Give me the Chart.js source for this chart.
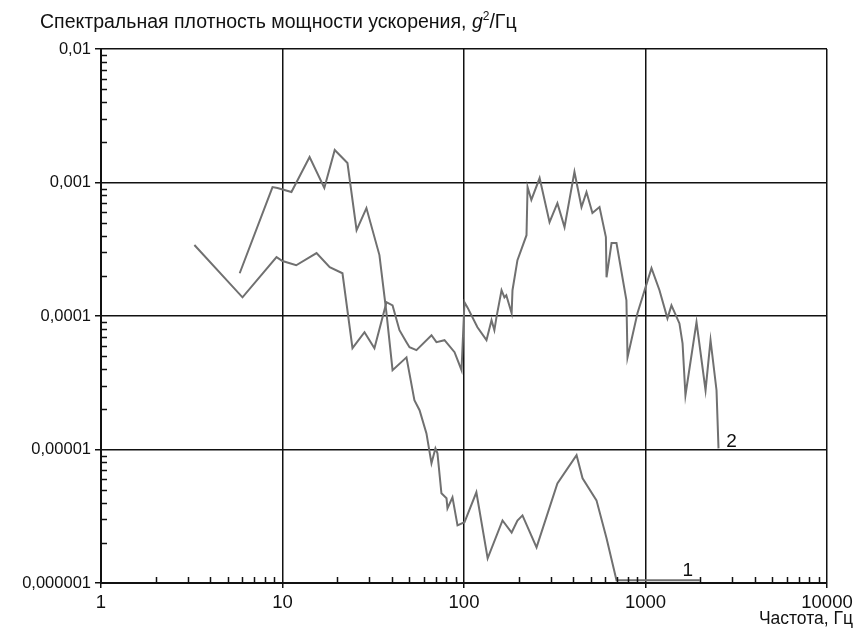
<!DOCTYPE html>
<html>
<head>
<meta charset="utf-8">
<script src="https://cdn.jsdelivr.net/npm/chart.js@4.4.1/dist/chart.umd.min.js"></script>
<style>
  body { margin: 0; background: #fff; }
  #wrap { position: relative; width: 857px; height: 633px; }
  .txt { position: absolute; font-family: "Liberation Sans", Arial, sans-serif; color: #111; white-space: nowrap; }
  #title { left: 40px; top: 9px; font-size: 19.5px; }
  #xtitle { right: 4px; top: 608px; font-size: 17.5px; }
  sup { font-size: 12px; vertical-align: 8px; }
</style>
</head>
<body>
<div id="wrap">
  <canvas id="chart" width="857" height="633"></canvas>
  <div id="title" class="txt">Спектральная плотность мощности ускорения, <i>g</i><sup>2</sup>/Гц</div>
  <div id="xtitle" class="txt">Частота, Гц</div>
</div>
<script>
// curve 1
const freq1 = [5.81, 8.81, 9.38, 11.2, 14.1, 17.0, 19.4, 22.8, 25.6, 29.0, 34.2, 37.4, 40.4, 48.2,
    53.3, 56.9, 62.1, 66.2, 69.6, 71.4, 75.1, 80.1, 81.1, 86.4, 92.1, 100.6, 117, 135, 163, 183,
    197, 210, 251, 327, 417, 450, 537, 610, 692, 1990];
const psd1 = [2.09e-4, 9.25e-4, 9.1e-4, 8.48e-4, 1.55e-3, 9.1e-4, 1.75e-3, 1.40e-3, 4.4e-4, 6.43e-4,
    2.86e-4, 1.05e-4, 3.93e-5, 4.9e-5, 2.34e-5, 1.97e-5, 1.32e-5, 7.88e-6, 1.02e-5, 9.37e-6,
    4.7e-6, 4.31e-6, 3.62e-6, 4.38e-6, 2.7e-6, 2.85e-6, 4.78e-6, 1.53e-6, 2.94e-6, 2.39e-6,
    2.94e-6, 3.21e-6, 1.85e-6, 5.58e-6, 9.06e-6, 6.08e-6, 4.16e-6, 2.16e-6, 1.05e-6, 1.05e-6];

// curve 2
const freq2 = [3.27, 6.02, 9.27, 10.0, 11.9, 15.4, 18.2, 21.4, 24.3, 28.3, 32.1, 37.4, 40.4, 44.1,
    48.2, 50.1, 54.7, 66.2, 70.5, 78.1, 88.7, 96.9, 100.6, 104.5, 118.6, 133, 141.8, 147, 151,
    161, 167, 171, 183, 185, 197, 221, 224, 235, 261, 296, 327, 358, 406, 444, 473, 510, 558,
    605, 610, 650, 692, 785, 796, 903, 1079, 1194, 1321, 1390, 1538, 1600, 1660, 1910, 2142,
    2282, 2462, 2525];
const psd2 = [3.4e-4, 1.38e-4, 2.76e-4, 2.58e-4, 2.40e-4, 2.96e-4, 2.32e-4, 2.09e-4, 5.74e-5, 7.56e-5,
    5.74e-5, 1.27e-4, 1.20e-4, 7.83e-5, 6.37e-5, 5.84e-5, 5.55e-5, 7.18e-5, 6.37e-5, 6.59e-5,
    5.36e-5, 3.93e-5, 1.27e-4, 1.16e-4, 8.24e-5, 6.59e-5, 9.3e-5, 7.83e-5, 9.8e-5, 1.56e-4,
    1.38e-4, 1.43e-4, 1.05e-4, 1.56e-4, 2.62e-4, 4.03e-4, 9.25e-4, 7.4e-4, 1.08e-3, 5.05e-4,
    7.0e-4, 4.63e-4, 1.20e-3, 6.55e-4, 8.48e-4, 5.9e-4, 6.55e-4, 3.9e-4, 1.95e-4, 3.52e-4,
    3.52e-4, 1.31e-4, 4.9e-5, 1.05e-4, 2.28e-4, 1.56e-4, 9.6e-5, 1.2e-4, 8.8e-5, 6.25e-5,
    2.55e-5, 9.0e-5, 2.78e-5, 6.6e-5, 2.78e-5, 1.02e-5];

const xTicks = [1, 10, 100, 1000, 10000];
const xTickLabels = ['1', '10', '100', '1000', '10000'];
const yTicks = [0.000001, 0.00001, 0.0001, 0.001, 0.01];
const yTickLabels = ['0,000001', '0,00001', '0,0001', '0,001', '0,01'];
const curveNames = ['1', '2'];

const toPoints = (xs, ys) => xs.map((x, i) => ({ x: x, y: ys[i] }));

// short inner minor ticks + curve numbers
const extras = {
    id: 'extras',
    afterDraw(chart) {
        const ctx = chart.ctx;
        const xs = chart.scales.x, ys = chart.scales.y;
        const a = chart.chartArea;
        ctx.save();
        ctx.strokeStyle = '#111';
        ctx.lineWidth = 1.5;
        ctx.beginPath();
        for (let d = 1; d < 10000; d *= 10) {
            for (let m = 2; m < 10; m++) {
                const px = Math.round(xs.getPixelForValue(d * m)) + 0.5;
                ctx.moveTo(px, a.bottom);
                ctx.lineTo(px, a.bottom - 6);
            }
        }
        for (let d = 0.000001; d < 0.009; d *= 10) {
            for (let m = 2; m < 10; m++) {
                const py = Math.round(ys.getPixelForValue(d * m)) + 0.5;
                ctx.moveTo(a.left, py);
                ctx.lineTo(a.left + 6, py);
            }
        }
        ctx.stroke();

        ctx.fillStyle = '#111';
        ctx.font = '19px "Liberation Sans", Arial, sans-serif';
        ctx.textAlign = 'center';
        ctx.textBaseline = 'alphabetic';
        // "1" sits above the flat tail of curve 1, "2" right of the end of curve 2
        const p1x = xs.getPixelForValue(freq1[freq1.length - 1]);
        const p1y = ys.getPixelForValue(psd1[psd1.length - 1]);
        ctx.fillText(curveNames[0], p1x - 12, p1y - 4);
        const p2x = xs.getPixelForValue(freq2[freq2.length - 1]);
        const p2y = ys.getPixelForValue(psd2[psd2.length - 1]);
        ctx.fillText(curveNames[1], p2x + 13, p2y - 1);
        ctx.restore();
    }
};

const ctx = document.getElementById('chart').getContext('2d');
new Chart(ctx, {
    type: 'scatter',
    data: {
        datasets: [
            { label: curveNames[0], data: toPoints(freq1, psd1), showLine: true, borderColor: '#707070', borderWidth: 2, pointRadius: 0, tension: 0 },
            { label: curveNames[1], data: toPoints(freq2, psd2), showLine: true, borderColor: '#707070', borderWidth: 2, pointRadius: 0, tension: 0 }
        ]
    },
    options: {
        responsive: false,
        animation: false,
        devicePixelRatio: 1,
        layout: { padding: { top: 49, right: 30, left: 0, bottom: 0 } },
        plugins: { legend: { display: false }, tooltip: { enabled: false } },
        scales: {
            x: {
                type: 'logarithmic',
                min: 1, max: 10000,
                afterBuildTicks: s => { s.ticks = xTicks.map(v => ({ value: v })); },
                afterFit: s => { s.height = 50; },
                ticks: {
                    autoSkip: false, maxRotation: 0, padding: 4, color: '#111',
                    font: { family: '"Liberation Sans", Arial, sans-serif', size: 18.5 },
                    callback: (v, i) => xTickLabels[i]
                },
                grid: { color: '#111', lineWidth: 1.5, tickLength: 5, tickColor: '#111' },
                border: { color: '#111', width: 2 }
            },
            y: {
                type: 'logarithmic',
                min: 0.000001, max: 0.01,
                afterBuildTicks: s => { s.ticks = yTicks.map(v => ({ value: v })); },
                afterFit: s => { s.width = 101; },
                ticks: {
                    autoSkip: false, padding: 4, color: '#111',
                    font: { family: '"Liberation Sans", Arial, sans-serif', size: 16.5 },
                    callback: (v, i) => yTickLabels[i]
                },
                grid: { color: '#111', lineWidth: 1.5, tickLength: 6, tickColor: '#111' },
                border: { color: '#111', width: 2 }
            }
        }
    },
    plugins: [extras]
});
</script>
</body>
</html>
